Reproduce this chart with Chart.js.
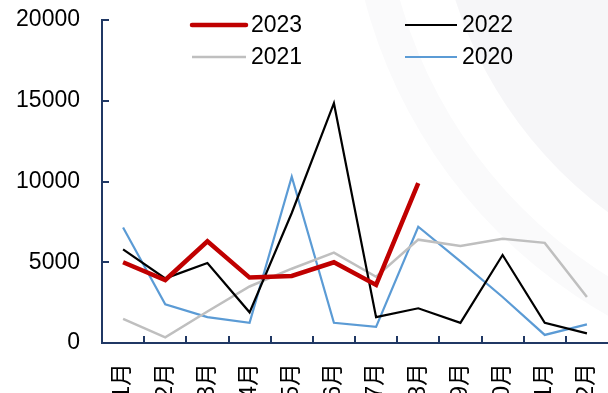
<!DOCTYPE html>
<html>
<head>
<meta charset="utf-8">
<script src="https://cdn.jsdelivr.net/npm/chart.js@4/dist/chart.umd.min.js"></script>
<style>
html,body{margin:0;padding:0;background:#fff;overflow:hidden;}
#wrap{position:relative;width:608px;height:393px;}
</style>
</head>
<body>
<div id="wrap"><canvas id="c" width="608" height="393"></canvas></div>
<script>
const categories = ['1月','2月','3月','4月','5月','6月','7月','8月','9月','10月','11月','12月'];
const seriesNames = ['2023','2022','2021','2020'];
const values2023 = [5000, 3900, 6300, 4050, 4150, 5000, 3600, 9900];
const values2022 = [5800, 4000, 4950, 1900, 8050, 14850, 1600, 2150, 1250, 5450, 1250, 600];
const values2021 = [1500, 350, 1950, 3500, 4600, 5600, 4100, 6400, 6000, 6450, 6200, 2850];
const values2020 = [7150, 2400, 1600, 1250, 10300, 1250, 1000, 7200, 5050, 2850, 500, 1150];
const yTicks = [0, 5000, 10000, 15000, 20000];

const AXIS = '#203864';
const FONT = "'Liberation Sans', Arial, 'Noto Sans CJK SC', sans-serif";

const bgPlugin = {
  id: 'bg',
  beforeDraw(chart) {
    const ctx = chart.ctx;
    ctx.save();
    ctx.fillStyle = '#ffffff';
    ctx.fillRect(0, 0, chart.width, chart.height);
    // faint watermark arcs
    ctx.beginPath();
    ctx.arc(860, -130, 512, 0, Math.PI * 2);
    ctx.arc(860, -130, 478, 0, Math.PI * 2, true);
    ctx.fillStyle = '#fafafb';
    ctx.fill('nonzero');
    ctx.beginPath();
    ctx.arc(860, -130, 425, 0, Math.PI * 2);
    ctx.fillStyle = '#f6f6f8';
    ctx.fill();
    ctx.restore();
  }
};

const tickPlugin = {
  id: 'ticksIn',
  afterDraw(chart) {
    const ctx = chart.ctx;
    const xs = chart.scales.x, ys = chart.scales.y;
    const a = chart.chartArea;
    ctx.save();
    ctx.strokeStyle = AXIS;
    ctx.lineWidth = 2;
    for (let i = 0; i < categories.length - 1; i++) {
      const x = Math.round((xs.getPixelForValue(i) + xs.getPixelForValue(i + 1)) / 2);
      ctx.beginPath();
      ctx.moveTo(x, a.bottom);
      ctx.lineTo(x, a.bottom - 7);
      ctx.stroke();
    }
    yTicks.forEach(v => {
      const y = Math.round(ys.getPixelForValue(v));
      ctx.beginPath();
      ctx.moveTo(a.left, y);
      ctx.lineTo(a.left + 7, y);
      ctx.stroke();
    });
    // legend
    const pos = [[192, 246, 25], [405, 457, 25], [192, 246, 57], [405, 457, 57]];
    chart.data.datasets.forEach((ds, i) => {
      const [x1, x2, y] = pos[i];
      ctx.beginPath();
      ctx.lineCap = i === 0 ? 'round' : 'butt';
      ctx.strokeStyle = ds.borderColor;
      ctx.lineWidth = ds.borderWidth;
      ctx.moveTo(x1, y);
      ctx.lineTo(x2, y);
      ctx.stroke();
      ctx.fillStyle = '#000';
      ctx.font = '23px ' + FONT;
      ctx.textBaseline = 'middle';
      ctx.textAlign = 'left';
      ctx.fillText(ds.label, x2 + 5, y + 1);
    });
    ctx.restore();
  }
};

new Chart(document.getElementById('c'), {
  type: 'line',
  data: {
    labels: categories,
    datasets: [
      { label: seriesNames[0], data: values2023, borderColor: '#C00000', borderWidth: 4.5 },
      { label: seriesNames[1], data: values2022, borderColor: '#000000', borderWidth: 2.2 },
      { label: seriesNames[2], data: values2021, borderColor: '#BFBFBF', borderWidth: 2.5 },
      { label: seriesNames[3], data: values2020, borderColor: '#5B9BD5', borderWidth: 2.2 }
    ]
  },
  options: {
    responsive: false,
    devicePixelRatio: 1,
    animation: false,
    layout: { padding: { top: 20, right: 0, bottom: 0, left: 0 } },
    elements: { point: { radius: 0 }, line: { tension: 0, fill: false } },
    plugins: { legend: { display: false }, tooltip: { enabled: false } },
    scales: {
      x: {
        offset: true,
        grid: { display: false, drawTicks: false },
        border: { display: true, color: AXIS, width: 2 },
        ticks: { color: '#000', font: { size: 23, family: FONT }, minRotation: 90, maxRotation: 90, padding: 20, autoSkip: false },
        afterFit(s) { s.height = 50; s.paddingLeft = 0; s.paddingRight = 0; }
      },
      y: {
        min: 0, max: 20000,
        afterBuildTicks(s) { s.ticks = yTicks.map(v => ({ value: v })); },
        grid: { display: false, drawTicks: false },
        border: { display: true, color: AXIS, width: 2 },
        ticks: { color: '#000', font: { size: 23, family: FONT }, padding: 22, callback: v => String(v) },
        afterFit(s) { s.width = 102; s.paddingTop = 0; s.paddingBottom = 0; }
      }
    }
  },
  plugins: [bgPlugin, tickPlugin]
});
</script>
</body>
</html>
